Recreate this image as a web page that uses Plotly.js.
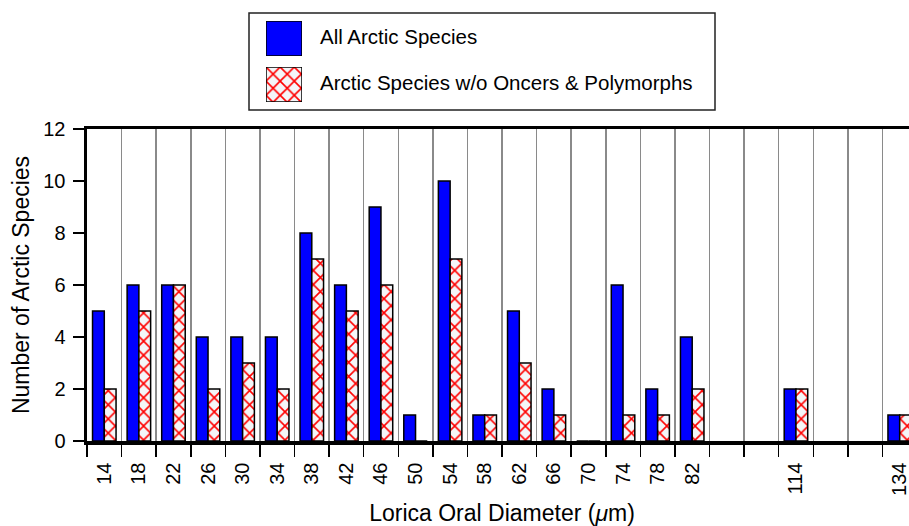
<!DOCTYPE html>
<html>
<head>
<meta charset="utf-8">
<script src="https://cdn.plot.ly/plotly-3.0.1.min.js"></script>
<style>
html, body { margin: 0; padding: 0; overflow: hidden; background: #fff; }
#chart { width: 918px; height: 526px; }
</style>
</head>
<body>
<div id="chart"></div>
<script>
// x slots of the axis (blank entries are empty size classes)
const categories = ['14','18','22','26','30','34','38','42','46','50','54','58','62','66','70','74','78','82',' ','  ','114','   ','    ','134'];
// size classes with data
const sizeClasses = ['14','18','22','26','30','34','38','42','46','50','54','58','62','66','70','74','78','82','114','134'];
const allArctic = [5, 6, 6, 4, 4, 4, 8, 6, 9, 1, 10, 1, 5, 2, 0, 6, 2, 4, 2, 1];
const withoutOncersPolymorphs = [2, 5, 6, 2, 3, 2, 7, 5, 6, 0, 7, 1, 3, 1, 0, 1, 1, 2, 2, 1];
const seriesNames = ['All Arctic Species', 'Arctic Species w/o Oncers & Polymorphs'];
const yTicks = [0, 2, 4, 6, 8, 10, 12];

const FONT = 'Liberation Sans, Arial, Helvetica, sans-serif';
const blueMarker = { color: '#0000ff', line: { color: '#000', width: 1.5 } };
const hatchMarker = {
  color: '#f4f6f8',
  line: { color: '#000', width: 1.5 },
  pattern: { shape: 'x', fgcolor: '#ff0000', bgcolor: '#f4f6f8', size: 10, solidity: 0.3 }
};

const traces = [
  { type: 'bar', name: seriesNames[0], x: sizeClasses, y: allArctic, marker: blueMarker,
    xaxis: 'x', yaxis: 'y', hoverinfo: 'x+y' },
  { type: 'bar', name: seriesNames[1], x: sizeClasses, y: withoutOncersPolymorphs, marker: hatchMarker,
    xaxis: 'x', yaxis: 'y', hoverinfo: 'x+y' },
  // legend swatches
  { type: 'bar', x: [0], y: [1], width: [1], marker: blueMarker, xaxis: 'x2', yaxis: 'y2', hoverinfo: 'skip' },
  { type: 'bar', x: [0], y: [1], width: [1], marker: hatchMarker, xaxis: 'x3', yaxis: 'y3', hoverinfo: 'skip' }
];

// geometry (pixels)
const W = 918, H = 526, mL = 87, mR = 1, mT = 10, mB = 85;
const pw = W - mL - mR, ph = H - mT - mB;
const plotTopPx = 129;
const px2x = p => (p - mL) / pw;
const py2y = p => (H - mB - p) / ph;

const swatchAxis = (dom) => ({ domain: dom, range: [-0.5, 0.5], visible: false, fixedrange: true });
const swatchYAxis = (dom) => ({ domain: dom, range: [0, 1], visible: false, fixedrange: true });

const layout = {
  width: W, height: H,
  margin: { l: mL, r: mR, t: mT, b: mB },
  paper_bgcolor: '#fff', plot_bgcolor: '#fff',
  showlegend: false,
  barmode: 'group', bargap: 0.32, bargroupgap: 0,
  font: { family: FONT, color: '#000', size: 20 },
  xaxis: {
    type: 'category', categoryorder: 'array', categoryarray: categories,
    range: [-0.5, categories.length - 0.5],
    tickson: 'boundaries', ticks: 'outside', ticklen: 12, tickwidth: 1.5, tickcolor: '#000',
    tickangle: -90, tickfont: { size: 20, family: FONT }, ticklabelstandoff: 10,
    showgrid: true, gridcolor: '#8a8a8a', gridwidth: 1.5,
    showline: true, linecolor: '#000', linewidth: 3.5, mirror: true,
    zeroline: false,
    title: { text: 'Lorica Oral Diameter (<i>μ</i>m)', font: { size: 23, family: FONT }, standoff: 14 }
  },
  yaxis: {
    domain: [0, py2y(plotTopPx)],
    range: [0, 12], tickvals: yTicks, ticktext: yTicks.map(String),
    ticks: 'outside', ticklen: 11, tickwidth: 1.5, tickcolor: '#000',
    tickfont: { size: 20, family: FONT }, ticklabelstandoff: 3,
    showgrid: false, zeroline: false,
    showline: true, linecolor: '#000', linewidth: 3.5, mirror: true,
    title: { text: 'Number of Arctic Species', font: { size: 23, family: FONT }, standoff: 8 }
  },
  xaxis2: swatchAxis([px2x(266), px2x(302)]),
  yaxis2: swatchYAxis([py2y(56), py2y(21)]),
  xaxis3: swatchAxis([px2x(266), px2x(302)]),
  yaxis3: swatchYAxis([py2y(102), py2y(67)]),
  shapes: [
    { type: 'rect', xref: 'paper', yref: 'paper',
      x0: px2x(249), x1: px2x(715), y0: py2y(110), y1: py2y(13),
      line: { color: '#222', width: 1.5 }, fillcolor: 'rgba(0,0,0,0)' }
  ],
  annotations: [
    { xref: 'paper', yref: 'paper', x: px2x(318), y: py2y(36.5), xanchor: 'left', yanchor: 'middle',
      text: seriesNames[0], showarrow: false, font: { size: 20.5, family: FONT } },
    { xref: 'paper', yref: 'paper', x: px2x(318), y: py2y(82.5), xanchor: 'left', yanchor: 'middle',
      text: seriesNames[1], showarrow: false, font: { size: 20.5, family: FONT } }
  ]
};

Plotly.newPlot('chart', traces, layout, { displayModeBar: false, staticPlot: true });
</script>
</body>
</html>
